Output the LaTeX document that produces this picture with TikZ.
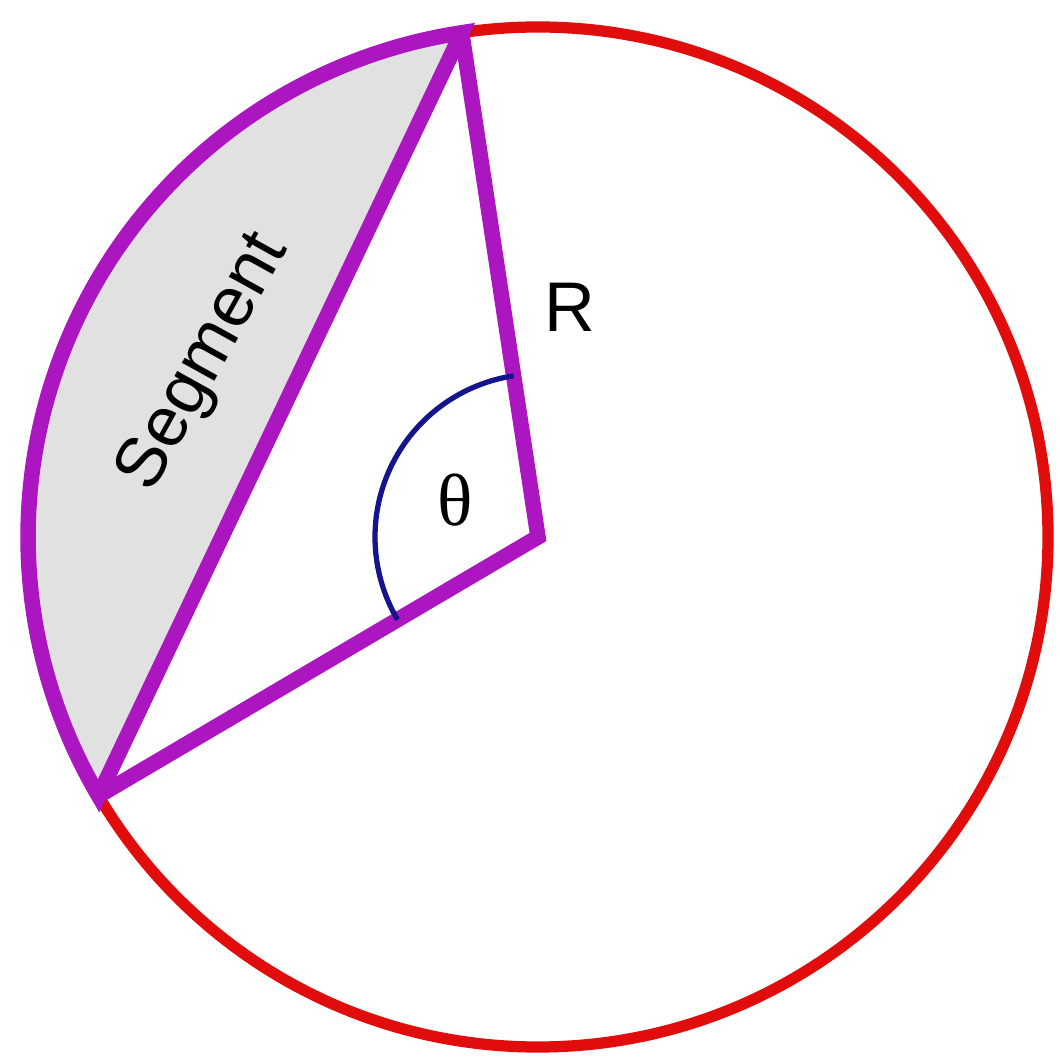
\documentclass[tikz,border=0pt]{standalone}
\usepackage{fontspec}
\setmainfont{Liberation Sans}
\newfontfamily\greekserif{Liberation Serif}
\definecolor{rimred}{RGB}{225,12,12}
\definecolor{segpurple}{RGB}{172,22,192}
\definecolor{angblue}{RGB}{20,20,140}
\definecolor{segfill}{RGB}{226,225,226}
\begin{document}
\begin{tikzpicture}[line join=miter, font=\fontsize{20}{24}\selectfont,
	rim/.style={rimred, line width=3.2pt},
	edge/.style={segpurple, line width=4.4pt},
	angmark/.style={angblue, line width=1.5pt}]
		
		\useasboundingbox (-5.38,-5.26) rectangle (5.21,5.37);
		
		% Bán kính và các góc của hai đầu dây cung
		\def\rad{5.1}
		\def\angA{98.6}
		\def\angB{210.5}
		\coordinate (O) at (0,0);
		\coordinate (A) at (\angA:\rad);
		\coordinate (B) at (\angB:\rad);
		
		% Tô màu hình viên phân
		\fill[segfill] (A) arc[start angle=\angA, end angle=\angB, radius=\rad] -- cycle;
		
		% Đường tròn
		\draw[rim] (O) circle (\rad);
		
		% Viền hình viên phân và hai bán kính
		\draw[edge] (A) arc[start angle=\angA, end angle=\angB, radius=\rad] -- cycle;
		\draw[edge] (A) -- (O) -- (B);
		
		% Cung đánh dấu góc
		\draw[angmark] ([shift={(\angA:1.63)}]O) arc[start angle=\angA, end angle=\angB, radius=1.63];
		
		% Nhãn
		\node (lblR) at (0.32,2.30) {R};
		\node (lbltheta) at (-0.83,0.37) {\greekserif\fontsize{21}{24}\selectfont θ};
		\node[rotate=61] (lblseg) at (-3.33,1.74) {Segment};
		
\end{tikzpicture}
\end{document}
